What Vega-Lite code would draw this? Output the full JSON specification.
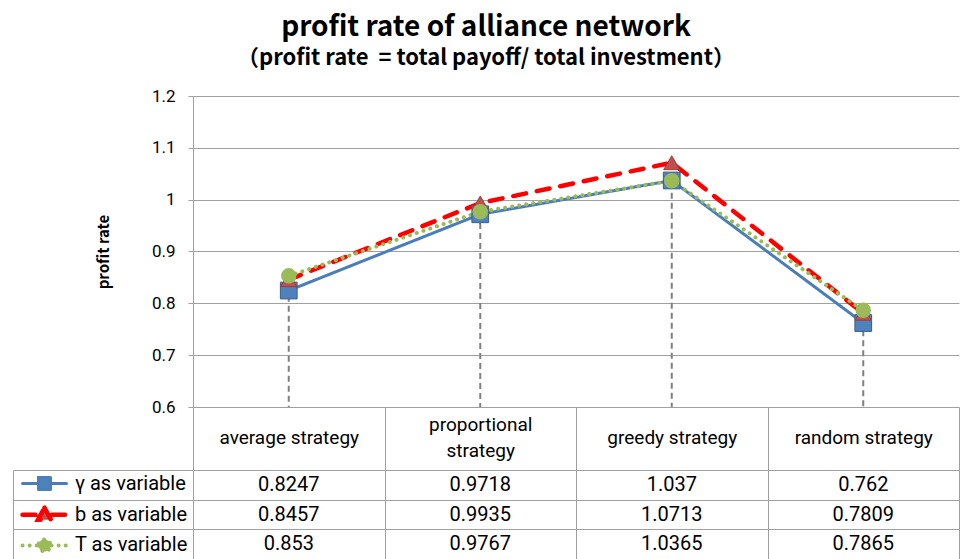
{
  "$schema": "https://vega.github.io/schema/vega-lite/v6.json",
  "autosize": {"type": "pad"},
  "padding": {"left": 12, "top": 14, "right": 4, "bottom": 0},
  "background": "white",
  "title": {
    "text": "profit rate of alliance network",
    "subtitle": "（profit rate\u00a0 = total payoff/ total investment）",
    "anchor": "middle",
    "frame": "bounds",
    "font": "Noto Sans CJK KR",
    "fontSize": 28,
    "fontWeight": "bold",
    "color": "#000",
    "subtitleFont": "Noto Sans CJK KR",
    "subtitleFontSize": 22,
    "subtitleFontWeight": "bold",
    "subtitleColor": "#000",
    "subtitlePadding": 6,
    "offset": 18
  },
  "data": {
    "values": [
      {"category": "average strategy", "series": "γ as variable", "value": 0.8247},
      {"category": "average strategy", "series": "b as variable", "value": 0.8457},
      {"category": "average strategy", "series": "T as variable", "value": 0.853},
      {"category": "proportional strategy", "series": "γ as variable", "value": 0.9718},
      {"category": "proportional strategy", "series": "b as variable", "value": 0.9935},
      {"category": "proportional strategy", "series": "T as variable", "value": 0.9767},
      {"category": "greedy strategy", "series": "γ as variable", "value": 1.037},
      {"category": "greedy strategy", "series": "b as variable", "value": 1.0713},
      {"category": "greedy strategy", "series": "T as variable", "value": 1.0365},
      {"category": "random strategy", "series": "γ as variable", "value": 0.762},
      {"category": "random strategy", "series": "b as variable", "value": 0.7809},
      {"category": "random strategy", "series": "T as variable", "value": 0.7865}
    ]
  },
  "spacing": 63,
  "bounds": "flush",
  "resolve": {"scale": {"x": "independent", "y": "independent"}},
  "vconcat": [
    {
      "width": 766,
      "height": 311,
      "encoding": {
        "x": {"field": "category", "type": "nominal", "sort": ["average strategy", "proportional strategy", "greedy strategy", "random strategy"], "scale": {"type": "band", "paddingInner": 0, "paddingOuter": 0}, "axis": null}
      },
      "layer": [
        {
          "mark": {"type": "rule", "strokeDash": [6, 4], "strokeWidth": 2, "color": "#7F7F7F"},
          "encoding": {
            "y": {"aggregate": "max", "field": "value", "type": "quantitative", "title": "profit rate",
                  "scale": {"domain": [0.6, 1.2], "nice": false, "zero": false},
                  "axis": {"values": [0.6, 0.7, 0.8, 0.9, 1, 1.1, 1.2], "format": "~g", "title": "profit rate",
                           "titleFont": "Noto Sans CJK KR", "titleFontWeight": "bold", "titleFontSize": 15, "titleColor": "#000", "titlePadding": 40,
                           "labelFont": "Roboto", "labelFontSize": 17, "labelColor": "#000", "labelPadding": 13,
                           "tickSize": 5, "tickColor": "#A0A0A0", "domainColor": "#A0A0A0", "grid": true, "gridColor": "#A0A0A0", "gridOpacity": 1}},
            "y2": {"datum": 0.6}
          }
        },
        {
          "mark": {"type": "line", "strokeCap": "round"},
          "encoding": {
            "y": {"field": "value", "type": "quantitative", "title": "profit rate"},
            "stroke": {"field": "series", "type": "nominal",
                       "scale": {"domain": ["γ as variable", "b as variable", "T as variable"], "range": ["#4A7EBB", "#FF0000", "#9BBB59"]},
                       "legend": {
                         "orient": "none", "legendX": -161, "legendY": 376, "title": null, "padding": 0,
                         "rowPadding": 2.2, "symbolSize": 400, "symbolOpacity": 1, "labelOffset": 18,
                         "labelFont": "Roboto", "labelFontSize": 20, "labelColor": "#000", "labelLimit": 200,
                         "encode": {"symbols": {"update": {"strokeCap": {"value": "round"}}}}
                       }},
            "strokeDash": {"field": "series", "type": "nominal",
                           "scale": {"domain": ["γ as variable", "b as variable", "T as variable"], "range": [[1, 0], [13, 11], [0.1, 7]]}},
            "strokeWidth": {"field": "series", "type": "nominal",
                            "scale": {"type": "ordinal", "domain": ["γ as variable", "b as variable", "T as variable"], "range": [3, 4.5, 4]}}
          }
        },
        {
          "mark": {"type": "point", "filled": true, "opacity": 0},
          "encoding": {
            "y": {"field": "value", "type": "quantitative", "title": "profit rate"},
            "shape": {"field": "series", "type": "nominal",
                      "scale": {"domain": ["γ as variable", "b as variable", "T as variable"],
                                "range": ["M-2.2,0H-0.6M0.6,0H2.2M-0.6,-0.6H0.6V0.6H-0.6Z", "M-2.2,0H-0.75M0.75,0H2.2M0,-0.7L0.65,0.5H-0.65Z", "M-2.2,0H-0.7M0.7,0H2.2M-0.6,0A0.6,0.6,0,1,0,0.6,0A0.6,0.6,0,1,0,-0.6,0Z"]}},
            "fill": {"field": "series", "type": "nominal",
                     "scale": {"domain": ["γ as variable", "b as variable", "T as variable"], "range": ["#4F81BD", "#C0504D", "#9BBB59"]}}
          }
        },
        {
          "transform": [{"filter": "datum.series === 'γ as variable'"}],
          "mark": {"type": "square", "filled": true, "opacity": 1, "size": 280, "stroke": "#385D8A", "strokeWidth": 1},
          "encoding": {
            "y": {"field": "value", "type": "quantitative", "title": "profit rate"},
            "fill": {"field": "series", "type": "nominal", "scale": {"domain": ["γ as variable", "b as variable", "T as variable"]}}
          }
        },
        {
          "transform": [{"filter": "datum.series === 'b as variable'"}],
          "mark": {"type": "point", "shape": "triangle-up", "filled": true, "opacity": 1, "size": 260, "stroke": "#A33B38", "strokeWidth": 1},
          "encoding": {
            "y": {"field": "value", "type": "quantitative", "title": "profit rate"},
            "fill": {"field": "series", "type": "nominal", "scale": {"domain": ["γ as variable", "b as variable", "T as variable"]}}
          }
        },
        {
          "transform": [{"filter": "datum.series === 'T as variable'"}],
          "mark": {"type": "circle", "opacity": 1, "size": 240},
          "encoding": {
            "y": {"field": "value", "type": "quantitative", "title": "profit rate"},
            "fill": {"field": "series", "type": "nominal", "scale": {"domain": ["γ as variable", "b as variable", "T as variable"]}}
          }
        }
      ]
    },
    {
      "width": 766,
      "height": 89,
      "mark": {"type": "text", "fontSize": 20, "font": "Roboto", "color": "#000", "baseline": "middle"},
      "encoding": {
        "x": {"field": "category", "type": "nominal", "sort": ["average strategy", "proportional strategy", "greedy strategy", "random strategy"],
              "scale": {"type": "band", "paddingInner": 0, "paddingOuter": 0},
              "axis": {"orient": "top", "title": null, "tickBand": "extent", "tickSize": 63, "tickColor": "#A0A0A0", "domain": false,
                       "grid": true, "gridColor": "#A0A0A0", "gridOpacity": 1,
                       "labelPadding": {"condition": {"test": "datum.value === 'proportional strategy'", "value": -17}, "value": -30},
                       "labelBaseline": "middle", "labelAngle": 0, "labelFontSize": 19,
                       "labelFont": "Roboto", "labelColor": "#000", "labelLineHeight": 26,
                       "labelExpr": "datum.label == 'proportional strategy' ? ['proportional', 'strategy'] : datum.label"}},
        "y": {"field": "series", "type": "nominal", "sort": ["γ as variable", "b as variable", "T as variable"],
              "scale": {"type": "band", "paddingInner": 0, "paddingOuter": 0},
              "axis": {"title": null, "labels": false, "tickBand": "extent", "tickSize": -180, "offset": 180,
                       "domain": true, "domainColor": "#A0A0A0", "tickColor": "#A0A0A0",
                       "grid": true, "gridColor": "#A0A0A0", "gridOpacity": 1}},
        "text": {"field": "value", "type": "quantitative"}
      }
    }
  ],
  "config": {"view": {"stroke": null}}
}
